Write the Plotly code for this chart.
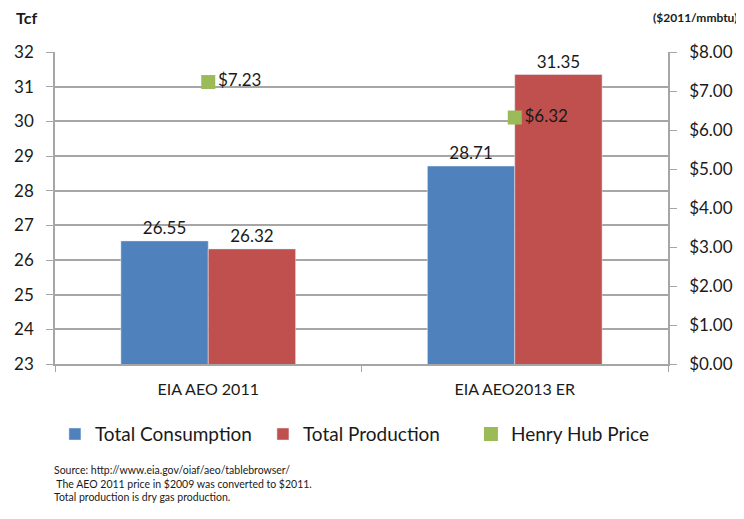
import plotly.graph_objects as go

categories = ["EIA AEO 2011", "EIA AEO2013 ER"]
consumption = [26.55, 28.71]
production = [26.32, 31.35]
price = [7.23, 6.32]
price_labels = ["$7.23", "$6.32"]
left_ticks = list(range(23, 33))
right_ticks = [0, 1, 2, 3, 4, 5, 6, 7, 8]
right_tick_labels = ["$%.2f" % v for v in right_ticks]

FONT = "Lato, 'Open Sans', sans-serif"
BLUE = "#4F81BD"
RED = "#C0504D"
GREEN = "#9BBB59"
GRID = "#A6A6A6"
TXT = "#1a1a1a"

fig = go.Figure()
fig.add_trace(go.Bar(
    x=categories, y=consumption, name="Total Consumption",
    marker=dict(color=BLUE), text=["%.2f" % v for v in consumption],
    textposition="outside", textfont=dict(size=17, color=TXT, family=FONT),
    cliponaxis=False,
))
fig.add_trace(go.Bar(
    x=categories, y=production, name="Total Production",
    marker=dict(color=RED), text=["%.2f" % v for v in production],
    textposition="outside", textfont=dict(size=17, color=TXT, family=FONT),
    cliponaxis=False,
))
fig.add_trace(go.Scatter(
    x=categories, y=price, name="Henry Hub Price", yaxis="y2",
    mode="markers+text", marker=dict(symbol="square", size=14, color=GREEN),
    text=price_labels, textposition="middle right",
    textfont=dict(size=17, color=TXT, family=FONT), cliponaxis=False,
))

fig.update_layout(
    width=736, height=511,
    margin=dict(l=47, r=76, t=44, b=155, autoexpand=False),
    plot_bgcolor="white", paper_bgcolor="white",
    font=dict(family=FONT, size=16, color=TXT),
    barmode="group", bargap=0.43, bargroupgap=0,
    showlegend=True,
    legend=dict(orientation="h", x=-0.0001, xanchor="left", y=-0.164, yanchor="top",
                font=dict(size=19, family=FONT, color=TXT), itemwidth=30,
                entrywidth=163, traceorder="normal"),
    xaxis=dict(
        type="category", showline=True, linecolor=GRID, linewidth=1.5,
        ticks="outside", tickson="boundaries", ticklen=6, tickcolor=GRID,
        tickfont=dict(size=16, family=FONT, color=TXT), showgrid=False,
        automargin=False, ticklabelstandoff=10,
    ),
    yaxis=dict(
        range=[23, 32], tickvals=left_ticks, showline=True, linecolor=GRID,
        linewidth=1.5, ticks="outside", ticklen=7, tickcolor=GRID,
        gridcolor=GRID, gridwidth=1.5, zeroline=False, automargin=False,
        tickfont=dict(size=17, family=FONT, color=TXT), ticklabelstandoff=9,
    ),
    yaxis2=dict(
        range=[0, 8], tickvals=right_ticks, ticktext=right_tick_labels,
        overlaying="y", side="right", showline=True, linecolor=GRID,
        linewidth=1.5, ticks="outside", ticklen=7, tickcolor=GRID,
        showgrid=False, zeroline=False, automargin=False,
        tickfont=dict(size=17, family=FONT, color=TXT), ticklabelstandoff=9,
    ),
    annotations=[
        dict(text="<b>Tcf</b>", xref="paper", yref="paper", x=-0.067, y=1.109,
             xanchor="left", yanchor="middle", showarrow=False,
             font=dict(size=16, family=FONT, color=TXT)),
        dict(text="<b>($2011/mmbtu)</b>", xref="paper", yref="paper", x=1.117, y=1.109,
             xanchor="right", yanchor="middle", showarrow=False,
             font=dict(size=12, family=FONT, color=TXT)),
        dict(text="Source: http://www.eia.gov/oiaf/aeo/tablebrowser/<br> The AEO 2011 price in $2009 was converted to $2011.<br>Total production is dry gas production.",
             xref="paper", yref="paper", x=-0.005, y=-0.315, xanchor="left", yanchor="top",
             align="left", showarrow=False,
             font=dict(size=10.5, family=FONT, color=TXT)),
    ],
)

fig.write_html("out.html")
